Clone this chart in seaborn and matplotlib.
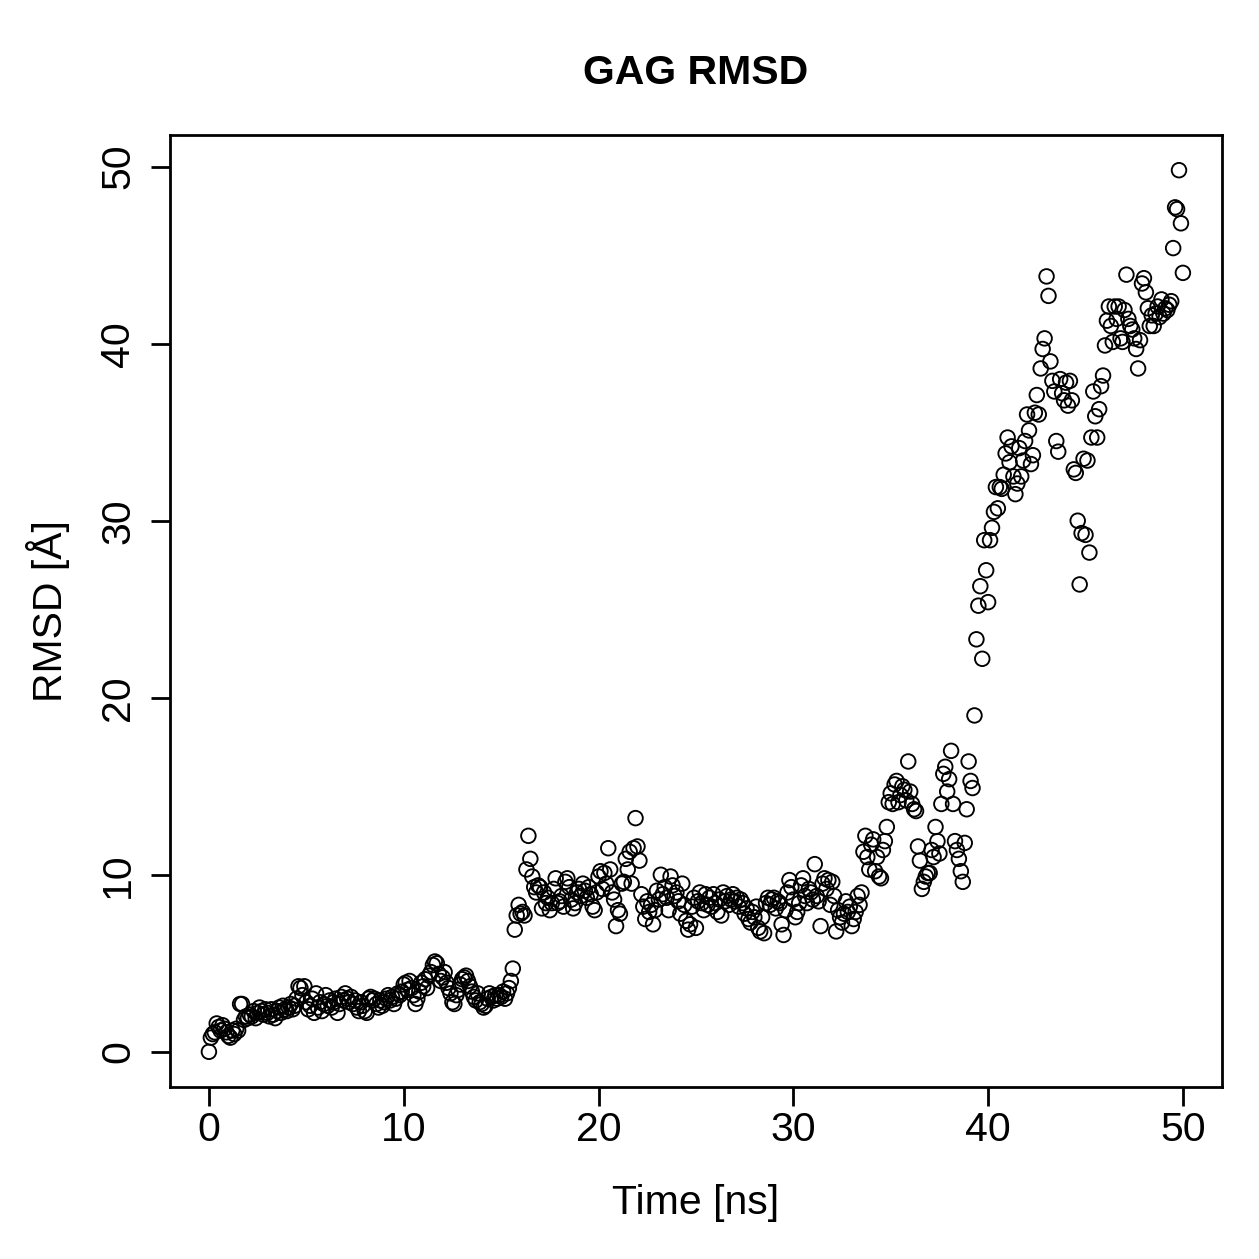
import numpy as np
import pandas as pd
import matplotlib
matplotlib.use("Agg")
import matplotlib.pyplot as plt
import seaborn as sns

# RMSD values sampled every 0.1 ns, grouped in 5 ns blocks
rmsd_00_05 = [0.0, 0.8, 1.0, 1.1, 1.6, 1.4, 1.2, 1.5, 1.3, 1.1,
              0.9, 0.8, 1.2, 1.0, 1.3, 1.2, 2.7, 2.7, 1.8, 2.0,
              1.9, 2.1, 2.0, 2.3, 1.9, 2.2, 2.5, 2.3, 2.1, 2.4,
              2.2, 2.0, 2.4, 2.1, 1.9, 2.3, 2.5, 2.2, 2.6, 2.4,
              2.3, 2.5, 2.7, 2.4, 2.6, 3.0, 3.7, 3.6, 3.2, 3.7]
rmsd_05_10 = [2.8, 2.4, 2.6, 3.0, 2.2, 3.3, 2.5, 2.8, 2.3, 2.7,
              3.2, 2.6, 2.9, 2.5, 2.8, 3.0, 2.2, 2.7, 3.1, 2.9,
              3.3, 3.0, 2.8, 3.1, 2.7, 2.9, 2.5, 2.3, 2.8, 2.6,
              2.3, 2.2, 3.0, 3.1, 2.9, 3.0, 2.7, 2.5, 2.9, 2.6,
              2.8, 3.0, 3.2, 2.9, 3.1, 2.7, 3.0, 3.3, 3.2, 3.4]
rmsd_10_15 = [3.8, 3.9, 3.5, 4.0, 3.6, 3.2, 2.7, 3.0, 3.4, 3.9,
              3.7, 4.1, 3.6, 4.3, 4.5, 4.9, 5.1, 5.0, 4.4, 4.0,
              4.2, 4.5, 3.9, 3.6, 3.3, 2.8, 2.7, 3.2, 3.5, 3.8,
              4.1, 4.2, 4.3, 4.0, 3.7, 3.4, 3.1, 2.9, 3.3, 2.8,
              2.7, 2.5, 2.6, 3.0, 3.3, 3.1, 2.9, 3.2, 3.0, 3.2]
rmsd_15_20 = [3.1, 3.4, 3.0, 3.3, 3.6, 4.0, 4.7, 6.9, 7.7, 8.3,
              7.8, 7.9, 7.7, 10.3, 12.2, 10.9, 9.9, 9.3, 9.0, 9.4,
              9.3, 8.1, 9.0, 8.4, 8.7, 8.0, 8.4, 9.2, 9.8, 8.4,
              8.5, 8.8, 8.2, 9.6, 9.8, 9.3, 8.6, 8.1, 8.4, 9.0,
              9.2, 8.8, 9.5, 9.1, 8.7, 9.3, 8.9, 8.2, 8.0, 9.0]
rmsd_20_25 = [9.9, 10.2, 9.2, 10.1, 9.5, 11.5, 10.3, 9.0, 8.6, 7.1,
              8.0, 7.8, 9.5, 9.6, 10.9, 10.3, 11.3, 9.5, 11.5, 13.2,
              11.6, 10.8, 8.9, 8.2, 7.5, 8.5, 7.9, 8.3, 7.2, 8.0,
              9.1, 8.6, 10.0, 8.9, 9.3, 8.7, 8.0, 9.9, 9.4, 8.8,
              9.0, 8.5, 7.8, 9.5, 8.3, 7.4, 6.9, 7.2, 8.2, 8.7]
rmsd_25_30 = [7.0, 8.5, 9.0, 8.4, 8.0, 8.9, 8.3, 8.7, 8.2, 8.9,
              8.4, 7.9, 8.6, 7.7, 9.0, 8.5, 8.8, 8.3, 8.6, 8.9,
              8.5, 8.7, 8.2, 8.6, 8.4, 7.8, 8.1, 7.5, 7.3, 7.9,
              7.6, 8.2, 7.0, 6.8, 7.6, 6.7, 8.4, 8.7, 8.3, 8.6,
              8.7, 8.1, 8.5, 8.4, 7.2, 6.6, 8.0, 9.0, 9.7, 9.3]
rmsd_30_35 = [8.6, 7.6, 7.9, 8.4, 9.4, 9.8, 8.8, 8.4, 9.2, 9.0,
              8.6, 10.6, 8.8, 8.5, 7.1, 9.5, 9.8, 9.2, 9.7, 8.3,
              9.6, 8.8, 6.8, 8.0, 7.6, 7.3, 7.8, 8.5, 7.9, 8.2,
              7.1, 7.5, 7.9, 8.8, 8.3, 9.0, 11.3, 12.2, 11.0, 10.3,
              11.7, 12.0, 10.2, 11.0, 9.9, 9.8, 11.4, 11.9, 12.7, 14.1]
rmsd_35_40 = [14.6, 14.0, 15.1, 15.3, 14.1, 14.5, 15.0, 14.8, 14.2, 16.4,
              14.7, 14.0, 13.7, 13.6, 11.6, 10.8, 9.2, 9.6, 9.9, 10.1,
              10.1, 11.4, 11.0, 12.7, 11.9, 11.2, 14.0, 15.7, 16.1, 14.7,
              15.4, 17.0, 14.0, 11.9, 11.4, 10.9, 10.2, 9.6, 11.8, 13.7,
              16.4, 15.3, 14.9, 19.0, 23.3, 25.2, 26.3, 22.2, 28.9, 27.2]
rmsd_40_45 = [25.4, 28.9, 29.6, 30.5, 31.9, 30.7, 31.9, 31.8, 32.6, 33.8,
              34.7, 33.3, 34.2, 32.5, 31.5, 32.1, 34.1, 32.5, 33.4, 34.5,
              36.0, 35.1, 33.2, 33.7, 36.1, 37.1, 36.0, 38.6, 39.7, 40.3,
              43.8, 42.7, 39.0, 37.9, 37.3, 34.5, 33.9, 38.0, 37.2, 36.8,
              37.8, 36.5, 37.9, 36.8, 32.9, 32.7, 30.0, 26.4, 29.3, 33.5]
rmsd_45_50 = [29.2, 33.4, 28.2, 34.7, 37.3, 35.9, 34.7, 36.3, 37.6, 38.2,
              39.9, 41.3, 42.1, 41.0, 40.1, 42.1, 41.4, 42.1, 40.3, 40.1,
              41.9, 43.9, 41.4, 41.0, 40.8, 40.3, 39.7, 38.6, 40.2, 43.4,
              43.7, 42.9, 42.0, 41.0, 41.6, 41.0, 41.7, 42.1, 41.5, 42.5,
              41.7, 42.0, 41.9, 42.2, 42.4, 45.4, 47.7, 47.6, 49.8, 46.8]
rmsd_50 = [44.0]

rmsd = (rmsd_00_05 + rmsd_05_10 + rmsd_10_15 + rmsd_15_20 + rmsd_20_25 +
        rmsd_25_30 + rmsd_30_35 + rmsd_35_40 + rmsd_40_45 + rmsd_45_50 + rmsd_50)
time_step = 0.1
time_ns = np.round(np.arange(len(rmsd)) * time_step, 1)
df = pd.DataFrame({"time": time_ns, "rmsd": rmsd})

x_ticks = [0, 10, 20, 30, 40, 50]
y_ticks = [0, 10, 20, 30, 40, 50]

sns.set_style("ticks")
plt.rcParams["font.family"] = ["Liberation Sans", "DejaVu Sans"]
plt.rcParams["text.color"] = "black"
plt.rcParams["axes.labelcolor"] = "black"
plt.rcParams["xtick.color"] = "black"
plt.rcParams["ytick.color"] = "black"

fig = plt.figure(figsize=(12.59, 12.59), dpi=100)
ax = fig.add_axes([0.135, 0.1366, 0.8355, 0.7562])

sns.scatterplot(data=df, x="time", y="rmsd", ax=ax, marker="o", s=110,
                facecolor="none", edgecolor="black", linewidth=1.35)

ax.set_xlim(-2, 52)
ax.set_ylim(-1.99, 51.79)
ax.set_xticks(x_ticks)
ax.set_yticks(y_ticks)
ax.set_xticklabels([str(t) for t in x_ticks])
ax.set_yticklabels([str(t) for t in y_ticks], rotation=90, va="center")
ax.tick_params(axis="both", length=13.5, width=2, labelsize=29.5,
               color="black", labelcolor="black")
ax.tick_params(axis="x", pad=4)
ax.tick_params(axis="y", pad=10)
for sp in ax.spines.values():
    sp.set_visible(True)
    sp.set_linewidth(2)
    sp.set_color("black")

ax.set_xlabel("Time [ns]", fontsize=29.5, labelpad=25, color="black")
ax.set_ylabel("RMSD [Å]", fontsize=29.5, labelpad=21, color="black")
ax.set_title("GAG RMSD", fontsize=29.5, fontweight="bold", pad=37, color="black")

fig.savefig("out.png", dpi=100)
